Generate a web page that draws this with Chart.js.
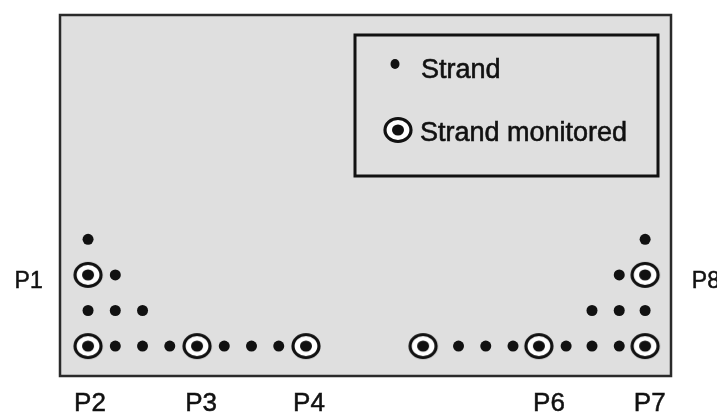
<!DOCTYPE html>
<html>
<head>
<meta charset="utf-8">
<script src="https://cdn.jsdelivr.net/npm/chart.js@4.4.1/dist/chart.umd.min.js"></script>
<style>
  html, body { margin: 0; padding: 0; background: #ffffff; }
  #wrap { position: relative; width: 717px; height: 414px; }
</style>
</head>
<body>
<div id="wrap"><canvas id="chart"></canvas></div>
<script>
// strand positions, x in strand spacings from P2, y in rows from the bottom row
const strandX = [1, 2, 3, 5, 6, 7, 0, 1, 2, 1, 0,
                 13.6, 14.6, 15.6, 17.55, 18.5, 19.5, 18.5, 19.5, 20.45, 19.5, 20.45];
const strandY = [0, 0, 0, 0, 0, 0, 1, 1, 1, 2, 3,
                 0, 0, 0, 0, 0, 0, 1, 1, 1, 2, 3];

const monitoredX = [0, 4, 8, 12.3, 16.55, 20.45, 0, 20.45];
const monitoredY = [0, 0, 0, 0, 0, 0, 2, 2];

// point names, placed outside the section
const pointNames = ["P1", "P2", "P3", "P4", "P6", "P7", "P8"];
const pointNameX = [-2.18, 0.07, 4.15, 8.11, 16.92, 20.62, 22.68];
const pointNameY = [1.62, -1.82, -1.82, -1.82, -1.82, -1.82, 1.62];

const legendLabels = ["Strand", "Strand monitored"];

const FONT = "'Liberation Sans', Arial, sans-serif";

// ringed dot used for the monitored strands
function makeRing() {
  const c = document.createElement("canvas");
  c.width = 32;
  c.height = 30;
  const g = c.getContext("2d");
  g.beginPath();
  g.ellipse(16, 15, 13, 11.5, 0, 0, Math.PI * 2);
  g.fillStyle = "#ffffff";
  g.fill();
  g.lineWidth = 3.2;
  g.strokeStyle = "#111111";
  g.stroke();
  g.beginPath();
  g.ellipse(16, 15, 6, 5.5, 0, 0, Math.PI * 2);
  g.fillStyle = "#111111";
  g.fill();
  return c;
}
const ring = makeRing();

const toPoints = (xs, ys) => xs.map((x, i) => ({ x: x, y: ys[i] }));

// text a little heavier, like the scanned original
function inkText(ctx, text, x, y) {
  ctx.fillText(text, x, y);
  ctx.strokeText(text, x, y);
}

const paperPlugin = {
  id: "paper",
  beforeDraw(chart) {
    const { ctx, chartArea: a } = chart;
    ctx.save();
    ctx.fillStyle = "#dfdfdf";
    ctx.fillRect(a.left, a.top, a.right - a.left, a.bottom - a.top);
    ctx.lineWidth = 2.5;
    ctx.strokeStyle = "#2a2a2a";
    ctx.strokeRect(a.left, a.top, a.right - a.left, a.bottom - a.top);
    ctx.restore();
  },
  afterDraw(chart) {
    const { ctx, chartArea: a } = chart;
    const xs = chart.scales.x;
    const ys = chart.scales.y;
    ctx.save();

    // P labels
    ctx.fillStyle = "#111111";
    ctx.strokeStyle = "#111111";
    ctx.lineWidth = 0.5;
    ctx.textAlign = "center";
    ctx.textBaseline = "alphabetic";
    pointNames.forEach((name, i) => {
      const side = pointNameY[i] > 0;
      ctx.font = (side ? "23px " : "26px ") + FONT;
      inkText(ctx, name, xs.getPixelForValue(pointNameX[i]), ys.getPixelForValue(pointNameY[i]));
    });

    // legend box
    const bx = a.right - 316, by = a.top + 20, bw = 303, bh = 141;
    ctx.lineWidth = 3;
    ctx.strokeRect(bx, by, bw, bh);

    ctx.beginPath();
    ctx.ellipse(bx + 40, by + 29, 4.5, 5, 0, 0, Math.PI * 2);
    ctx.fill();
    ctx.drawImage(ring, bx + 43 - ring.width / 2, by + 95 - ring.height / 2);

    ctx.font = "27px " + FONT;
    ctx.lineWidth = 0.6;
    ctx.textAlign = "left";
    inkText(ctx, legendLabels[0], bx + 66, by + 43);
    inkText(ctx, legendLabels[1], bx + 65, by + 106);
    ctx.restore();
  }
};

new Chart(document.getElementById("chart"), {
  type: "scatter",
  data: {
    datasets: [
      {
        label: legendLabels[0],
        data: toPoints(strandX, strandY),
        pointStyle: "circle",
        pointRadius: 5.5,
        pointHoverRadius: 5.5,
        backgroundColor: "#111111",
        borderWidth: 0,
        clip: false
      },
      {
        label: legendLabels[1],
        data: toPoints(monitoredX, monitoredY),
        pointStyle: ring,
        pointRadius: 14,
        clip: false
      }
    ]
  },
  options: {
    responsive: true,
    maintainAspectRatio: false,
    animation: false,
    events: [],
    layout: { padding: { left: 60, top: 14, right: 46, bottom: 38 } },
    plugins: {
      legend: { display: false },
      tooltip: { enabled: false }
    },
    scales: {
      x: { type: "linear", min: -1.03, max: 21.4, display: false },
      y: { type: "linear", min: -0.84, max: 9.3, display: false }
    }
  },
  plugins: [paperPlugin]
});
</script>
</body>
</html>
